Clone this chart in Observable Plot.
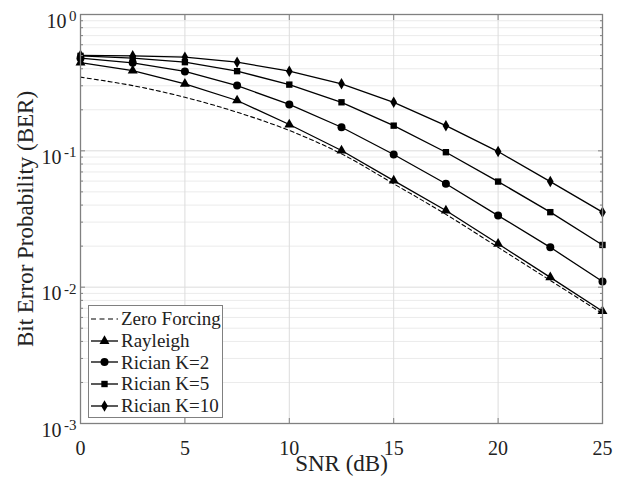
<!DOCTYPE html>
<html><head><meta charset="utf-8">
<script src="https://cdn.jsdelivr.net/npm/d3@7"></script>
<script src="https://cdn.jsdelivr.net/npm/@observablehq/plot@0.6"></script>
<style>
body{margin:0;background:#fff;}
#wrap{position:relative;width:622px;height:484px;font-family:"Liberation Serif","Times New Roman",serif;color:#222;}
#legend{position:absolute;left:88px;top:305px;width:135px;height:113px;border:1px solid #808080;background:#fff;box-sizing:border-box;padding-top:2px;}
.row{display:flex;align-items:center;height:21.7px;font-size:19px;line-height:1;white-space:nowrap;}
.row svg{width:32px;height:22px;flex:none;}
</style></head><body><div id="wrap"><div id="legend"></div></div>
<script>
const snr = [0, 2.5, 5, 7.5, 10, 12.5, 15, 17.5, 20, 22.5, 25];
const zeroForcing = [0.347, 0.301, 0.247, 0.192, 0.141, 0.095, 0.0573, 0.0342, 0.0196, 0.0112, 0.0064];
const rayleigh    = [0.444, 0.388, 0.310, 0.234, 0.156, 0.1005, 0.0605, 0.0365, 0.0208, 0.0118, 0.00666];
const ricianK2    = [0.478, 0.442, 0.382, 0.301, 0.219, 0.149, 0.094, 0.0573, 0.0335, 0.0196, 0.0110];
const ricianK5    = [0.497, 0.478, 0.447, 0.384, 0.306, 0.227, 0.153, 0.0977, 0.0595, 0.0355, 0.0204];
const ricianK10   = [0.502, 0.497, 0.486, 0.447, 0.384, 0.310, 0.227, 0.153, 0.0988, 0.0595, 0.0355];
const seriesNames = ["Zero Forcing", "Rayleigh", "Rician K=2", "Rician K=5", "Rician K=10"];
const xTicks = [0, 5, 10, 15, 20, 25];
const yMajorTicks = [1e-3, 1e-2, 1e-1, 1];
const yMinorTicks = [2e-3,3e-3,4e-3,5e-3,6e-3,7e-3,8e-3,9e-3,2e-2,3e-2,4e-2,5e-2,6e-2,7e-2,8e-2,9e-2,2e-1,3e-1,4e-1,5e-1,6e-1,7e-1,8e-1,9e-1];
const yTickExponents = ["-3", "-2", "-1", "0"];

const toRows = (vals, name) => snr.map((x, i) => ({snr: x, ber: vals[i], series: name}));
const zf = toRows(zeroForcing, seriesNames[0]);
const ray = toRows(rayleigh, seriesNames[1]);
const k2 = toRows(ricianK2, seriesNames[2]);
const k5 = toRows(ricianK5, seriesNames[3]);
const k10 = toRows(ricianK10, seriesNames[4]);

const labels = yMajorTicks.map((v, i) => ({v, e: yTickExponents[i]}));
const labNeg = labels.filter(d => d.e !== "0");
const labZero = labels.filter(d => d.e === "0");

const ink = "#222";
const lineW = 1.3;

const chart = Plot.plot({
  width: 622, height: 484,
  marginLeft: 80, marginRight: 20, marginTop: 14, marginBottom: 61,
  style: {fontFamily: '"Liberation Serif","Times New Roman",serif', background: "white", color: ink},
  x: {domain: [0, 25]},
  y: {type: "log", domain: [1e-3, 1]},
  marks: [
    Plot.gridY(yMinorTicks, {stroke: "#ebebeb", strokeOpacity: 1}),
    Plot.gridY(yMajorTicks, {stroke: "#dcdcdc", strokeOpacity: 1}),
    Plot.gridX(xTicks, {stroke: "#dcdcdc", strokeOpacity: 1}),
    Plot.line(zf, {x: "snr", y: "ber", stroke: "black", strokeWidth: 1.1, strokeDasharray: "4,3", curve: "catmull-rom"}),
    Plot.line(ray, {x: "snr", y: "ber", stroke: "black", strokeWidth: lineW}),
    Plot.line(k2, {x: "snr", y: "ber", stroke: "black", strokeWidth: lineW}),
    Plot.line(k5, {x: "snr", y: "ber", stroke: "black", strokeWidth: lineW}),
    Plot.line(k10, {x: "snr", y: "ber", stroke: "black", strokeWidth: lineW}),
    Plot.dot(ray, {x: "snr", y: "ber", symbol: "triangle", r: 3.7, fill: "black"}),
    Plot.dot(k2, {x: "snr", y: "ber", symbol: "circle", r: 4, fill: "black"}),
    Plot.dot(k5, {x: "snr", y: "ber", symbol: "square", r: 3.6, fill: "black"}),
    Plot.dot(k10, {x: "snr", y: "ber", symbol: "diamond", r: 3.5, fill: "black"}),
    Plot.frame({stroke: "#808080", strokeWidth: 1.3}),
    Plot.axisX(xTicks, {anchor: "bottom", tickSize: -5, tickFormat: () => "", stroke: "#808080", label: null}),
    Plot.axisX(xTicks, {anchor: "top", tickSize: -5, tickFormat: () => "", stroke: "#808080", label: null}),
    Plot.axisY(yMajorTicks, {anchor: "left", tickSize: -5, tickFormat: () => "", stroke: "#808080", label: null}),
    Plot.axisY(yMajorTicks, {anchor: "right", tickSize: -5, tickFormat: () => "", stroke: "#808080", label: null}),
    Plot.axisY(yMinorTicks, {anchor: "left", tickSize: -3, tickFormat: () => "", stroke: "#808080", label: null}),
    Plot.axisY(yMinorTicks, {anchor: "right", tickSize: -3, tickFormat: () => "", stroke: "#808080", label: null}),
    Plot.text(xTicks, {x: d => d, frameAnchor: "bottom", text: d => String(d), dy: 31, lineAnchor: "bottom", fontSize: 20, fill: ink}),
    Plot.text(labZero, {y: "v", frameAnchor: "left", text: () => "10", textAnchor: "end", dx: -14, dy: 13, lineAnchor: "bottom", fontSize: 20, fill: ink}),
    Plot.text(labNeg, {y: "v", frameAnchor: "left", text: () => "10", textAnchor: "end", dx: -19, dy: 13, lineAnchor: "bottom", fontSize: 20, fill: ink}),
    Plot.text(labels, {y: "v", frameAnchor: "left", text: "e", textAnchor: "end", dx: -4, dy: 6.5, lineAnchor: "bottom", fontSize: 15, fill: ink}),
    Plot.text(["SNR (dB)"], {frameAnchor: "bottom", text: d => d, dy: 47, lineAnchor: "bottom", fontSize: 23, fill: ink}),
    Plot.text(["Bit Error Probability (BER)"], {frameAnchor: "left", text: d => d, rotate: -90, textAnchor: "middle", dx: -48, lineAnchor: "bottom", fontSize: 23, fill: ink})
  ]
});
document.getElementById("wrap").prepend(chart);

// Legend
const legendSymbols = [null, d3.symbolTriangle, d3.symbolCircle, d3.symbolSquare, d3.symbolDiamond];
const legendSizes = [0, Math.PI * 3.7 * 3.7, Math.PI * 16, Math.PI * 3.6 * 3.6, Math.PI * 3.5 * 3.5];
const legend = d3.select("#legend");
seriesNames.forEach((name, i) => {
  const row = legend.append("div").attr("class", "row");
  const svg = row.append("svg").attr("viewBox", "0 0 32 22");
  const ln = svg.append("line").attr("x1", 2).attr("x2", 29).attr("y1", 11).attr("y2", 11)
    .attr("stroke", "black").attr("stroke-width", i === 0 ? 1.1 : lineW);
  if (i === 0) ln.attr("stroke-dasharray", "5,3.5");
  if (legendSymbols[i]) {
    svg.append("path").attr("transform", "translate(15.5,11)")
      .attr("d", d3.symbol(legendSymbols[i], legendSizes[i])()).attr("fill", "black");
  }
  row.append("span").text(name);
});
</script>
</body></html>
